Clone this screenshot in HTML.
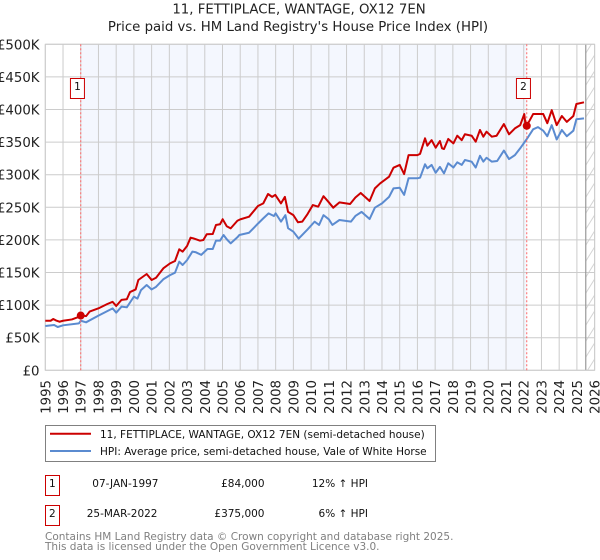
<!DOCTYPE html>
<html>
<head>
<meta charset="utf-8">
<title>11, FETTIPLACE, WANTAGE, OX12 7EN</title>
<style>
html,body{margin:0;padding:0;background:#fff;width:600px;height:560px;overflow:hidden}
svg{display:block;font-family:"DejaVu Sans","Liberation Sans",sans-serif}
</style>
</head>
<body>
<svg id="chart" width="600" height="560" viewBox="0 0 600 560" xmlns="http://www.w3.org/2000/svg">
<defs>
<pattern id="hatch" patternUnits="userSpaceOnUse" width="10" height="16">
<path d="M-2 17.6 L12 -4.8 M-12 17.6 L2 -4.8 M8 17.6 L22 -4.8" stroke="#d4d4d4" stroke-width="1" fill="none"/>
</pattern>
</defs>
<text x="299" y="13.5" font-size="13.3" text-anchor="middle" fill="#222">11, FETTIPLACE, WANTAGE, OX12 7EN</text>
<text x="298" y="31" font-size="13.3" text-anchor="middle" fill="#222">Price paid vs. HM Land Registry's House Price Index (HPI)</text>
<g id="plot"></g>
<g>
<rect x="45.5" y="425.5" width="390" height="36" fill="#fff" stroke="#808080" stroke-width="1"/>
<line x1="50" x2="91" y1="433.7" y2="433.7" stroke="#cc0000" stroke-width="2"/>
<text x="100" y="438" font-size="10.5" fill="#111">11, FETTIPLACE, WANTAGE, OX12 7EN (semi-detached house)</text>
<line x1="50" x2="91" y1="451" y2="451" stroke="#5b8bd0" stroke-width="2"/>
<text x="100" y="455" font-size="10.5" fill="#111">HPI: Average price, semi-detached house, Vale of White Horse</text>
</g>
<g>
<rect x="45.5" y="475.5" width="14" height="20" fill="#fff" stroke="#cc0000" stroke-width="1"/>
<text x="52.3" y="487" font-size="10.5" text-anchor="middle" fill="#111">1</text>
<text x="158.5" y="487" font-size="10.5" text-anchor="end" fill="#111">07-JAN-1997</text>
<text x="264.5" y="487" font-size="10.5" text-anchor="end" fill="#111">£84,000</text>
<text x="368" y="487" font-size="10.5" text-anchor="end" fill="#111">12% ↑ HPI</text>
</g>
<g>
<rect x="45.5" y="505.5" width="14" height="20" fill="#fff" stroke="#cc0000" stroke-width="1"/>
<text x="52.3" y="517" font-size="10.5" text-anchor="middle" fill="#111">2</text>
<text x="157.5" y="517" font-size="10.5" text-anchor="end" fill="#111">25-MAR-2022</text>
<text x="264.5" y="517" font-size="10.5" text-anchor="end" fill="#111">£375,000</text>
<text x="368" y="517" font-size="10.5" text-anchor="end" fill="#111">6% ↑ HPI</text>
</g>
<text x="45" y="540" font-size="10.5" fill="#808080">Contains HM Land Registry data © Crown copyright and database right 2025.</text>
<text x="45" y="550" font-size="10.5" fill="#808080">This data is licensed under the Open Government Licence v3.0.</text>
</svg>
<script>
var yearTicks = ["1995","1996","1997","1998","1999","2000","2001","2002","2003","2004","2005","2006","2007","2008","2009","2010","2011","2012","2013","2014","2015","2016","2017","2018","2019","2020","2021","2022","2023","2024","2025","2026"];
var valueTicks = [0,50,100,150,200,250,300,350,400,450,500];
var valueTickLabels = ["£0","£50K","£100K","£150K","£200K","£250K","£300K","£350K","£400K","£450K","£500K"];
var priceDates = [1995,1995.3,1995.45,1995.6,1995.8,1996,1996.5,1996.9,1997,1997.3,1997.5,1998,1998.5,1998.8,1999,1999.3,1999.6,1999.78,2000.1,2000.25,2000.72,2001,2001.25,2001.66,2002.04,2002.32,2002.56,2002.75,2003,2003.2,2003.35,2003.73,2003.92,2004.11,2004.45,2004.63,2004.86,2005.01,2005.24,2005.46,2005.84,2006,2006.5,2007,2007.3,2007.57,2007.8,2007.98,2008.3,2008.52,2008.7,2009,2009.26,2009.5,2009.8,2010.1,2010.4,2010.7,2010.97,2011.25,2011.6,2012.2,2012.5,2012.8,2013.3,2013.6,2013.9,2014.4,2014.65,2015,2015.25,2015.5,2016,2016.15,2016.43,2016.56,2016.8,2017.03,2017.27,2017.39,2017.5,2017.74,2018.03,2018.25,2018.5,2018.68,2019.06,2019.29,2019.53,2019.72,2019.9,2020.2,2020.47,2020.88,2021.17,2021.5,2021.8,2022.03,2022.1,2022.17,2022.53,2023.1,2023.33,2023.58,2023.86,2024.15,2024.43,2024.8,2024.97,2025.4];
var priceValues = [76,76,78.7,76.5,74.5,76,78,82,84.8,83,90,95,101.7,105,98.6,108,109,120,124,138.5,147.7,138.5,142,156.4,164,167.6,185.6,182,190.6,203.4,202.4,198.8,199.8,208.6,209,222.8,224,231.7,221,217.7,229.4,231.5,235.6,252,256,270.4,266,269,256,266,243,238,227,228,239.7,253.5,251,267,258.6,249.4,257.6,255,265,272,259.6,279,286.8,297,310.8,315,301,330,330,332,355.8,344.5,353,341.4,351.7,340.5,339.4,354.8,348,359.8,353,362,359.8,350.6,368.6,358.3,366,358.3,359.8,377.7,362,371,376,393,376,375,393,393,379,399,376,390,381,390,408.5,411];
var hpiDates = [1995,1995.5,1995.7,1996,1996.9,1997,1997.3,1998,1998.8,1999,1999.3,1999.6,2000,2000.2,2000.4,2000.72,2001,2001.25,2001.66,2002.04,2002.32,2002.56,2002.75,2003,2003.3,2003.5,2003.8,2004.15,2004.45,2004.63,2004.86,2005.06,2005.24,2005.46,2005.84,2005.95,2006.5,2007,2007.3,2007.6,2007.9,2008,2008.3,2008.55,2008.7,2009,2009.3,2009.8,2010.2,2010.45,2010.7,2011,2011.2,2011.6,2012.25,2012.5,2012.85,2013.3,2013.6,2014,2014.4,2014.65,2015,2015.25,2015.5,2016,2016.15,2016.43,2016.56,2016.8,2017.03,2017.27,2017.5,2017.74,2018.03,2018.25,2018.5,2018.68,2019.06,2019.29,2019.53,2019.72,2019.9,2020.2,2020.5,2020.88,2021.17,2021.5,2021.8,2022.2,2022.53,2022.8,2023.1,2023.33,2023.58,2023.86,2024.15,2024.43,2024.8,2024.97,2025.4];
var hpiValues = [68,69.5,66.4,69,72,76,73.6,83.8,95,88.4,97.6,96.6,113,110,123,130.8,124,128,139.6,146,149.7,166.6,161.5,169,182,181,177,186,186,198.8,198.8,207.5,201,194.7,204,207.5,211,225,233,240.7,236.6,240.7,228,238,218,212.6,202,216,228,223,238,231.6,223,230.5,228,236.7,243,232,249.4,256,266,279,280,269,294.5,294.5,295.4,316,309.8,315,303,312,302,317.5,311,319,315,322.5,320,311,329,320,326,320,321,337,324,330,340.5,355.8,369.6,373,367.5,359,376,354,368.6,359,367.5,385,386.4];
var saleDates = [1997.0,2022.17];
var salePrices = [84,375];
var saleLabels = ["1","2"];

var SVGNS = "http://www.w3.org/2000/svg";
var plot = document.getElementById("plot");
function xAxis(t){ return 45.3 + (t - 1995) * 17.72; }
function yAxis(v){ return 370.3 - v * 0.652; }
function make(tag, attrs, parent){
  var el = document.createElementNS(SVGNS, tag);
  for (var k in attrs) el.setAttribute(k, attrs[k]);
  (parent || plot).appendChild(el);
  return el;
}
var plotTop = yAxis(500), plotBottom = yAxis(0), plotLeft = xAxis(1995), plotRight = xAxis(2026);

var bg = make("rect", {x:plotLeft, y:plotTop, width:plotRight-plotLeft, height:plotBottom-plotTop, fill:"#fff"});



var band = make("rect", {x:xAxis(saleDates[0]), y:plotTop, width:xAxis(saleDates[1])-xAxis(saleDates[0]), height:plotBottom-plotTop, fill:"#f4f7fe"});



var hatch = make("rect", {x:xAxis(2025.5), y:plotTop, width:plotRight-xAxis(2025.5), height:plotBottom-plotTop, fill:"url(#hatch)"});



valueTicks.forEach(function(v, i){
  var g = make("line", {x1:plotLeft, x2:plotRight, y1:yAxis(v), y2:yAxis(v), stroke:"#cccccc", "stroke-width":1});
  
  
  var t = make("text", {x:39.5, y:yAxis(v)+5, "text-anchor":"end", "font-size":13.3, fill:"#222"});
  
  
  t.textContent = valueTickLabels[i];
});
yearTicks.forEach(function(label){
  var px = xAxis(+label);
  var g = make("line", {x1:px, x2:px, y1:plotTop, y2:plotBottom, stroke:"#cccccc", "stroke-width":1});
  
  
  var t = make("text", {x:0, y:0, "text-anchor":"end", "font-size":13.3, fill:"#222", transform:"translate("+(px+5)+",380) rotate(-90)"});
  
  
  t.textContent = label;
});

var endLine = make("line", {x1:xAxis(2025.5), x2:xAxis(2025.5), y1:plotTop, y2:plotBottom, stroke:"#999", "stroke-width":1.2});



var frame = make("rect", {x:plotLeft, y:plotTop, width:plotRight-plotLeft, height:plotBottom-plotTop, fill:"none", stroke:"#cccccc", "stroke-width":1});



function pathFor(dates, values){
  return dates.map(function(d, i){ return (i ? "L" : "M") + xAxis(d).toFixed(2) + " " + yAxis(values[i]).toFixed(2); }).join(" ");
}
var hpiLine = make("path", {d:pathFor(hpiDates, hpiValues), fill:"none", stroke:"#5b8bd0", "stroke-width":2, "stroke-linejoin":"round"});


var priceLine = make("path", {d:pathFor(priceDates, priceValues), fill:"none", stroke:"#cc0000", "stroke-width":2, "stroke-linejoin":"round"});



saleDates.forEach(function(d, i){
  var px = xAxis(d);
  var drop = make("line", {x1:px, x2:px, y1:plotTop, y2:plotBottom, stroke:"#ff6666", "stroke-width":1, "stroke-dasharray":"2 2"});
  
  
  var dot = make("circle", {cx:px, cy:yAxis(salePrices[i]), r:4, fill:"#cc0000"});
  
  
  var box = make("rect", {x:px-10.3, y:78.5, width:14, height:20, fill:"#fff", stroke:"#cc0000", "stroke-width":1});
  
  
  var num = make("text", {x:px-3.3, y:90, "text-anchor":"middle", "font-size":10.5, fill:"#111"});
  
  
  num.textContent = saleLabels[i];
});
</script>
</body>
</html>
